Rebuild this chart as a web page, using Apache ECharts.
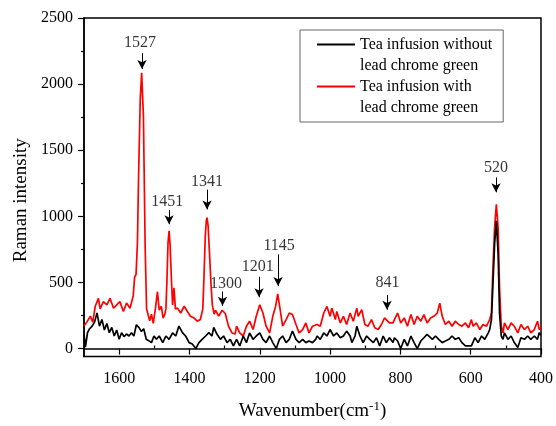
<!DOCTYPE html>
<html>
<head>
<meta charset="utf-8">
<script src="https://cdn.jsdelivr.net/npm/echarts@6/dist/echarts.min.js"></script>
<style>
html, body { margin: 0; padding: 0; background: #fff; }
#chart { width: 556px; height: 426px; }
</style>
</head>
<body>
<div id="chart"></div>
<script>
// tea infusion without lead chrome green
const blackShift = [1700, 1696, 1690, 1684, 1677, 1670, 1663, 1656, 1649, 1642, 1635, 1628, 1621, 1614, 1607, 1600, 1593, 1586, 1579, 1572, 1565, 1558, 1551, 1544, 1537, 1530, 1523, 1516, 1508, 1501, 1494, 1486, 1476, 1467, 1458, 1448, 1439, 1430, 1420, 1411, 1401, 1392, 1382, 1373, 1364, 1354, 1345, 1336, 1331, 1322, 1312, 1303, 1293, 1284, 1275, 1266, 1257, 1247, 1238, 1229, 1219, 1210, 1200, 1191, 1182, 1172, 1163, 1153, 1144, 1135, 1125, 1116, 1107, 1097, 1088, 1078, 1069, 1060, 1050, 1041, 1037, 1028, 1018, 1009, 1000, 990, 981, 971, 962, 953, 943, 938, 929, 924, 915, 906, 896, 887, 877, 868, 859, 849, 840, 831, 821, 817, 808, 799, 789, 780, 770, 761, 752, 742, 733, 724, 719, 709, 700, 691, 681, 672, 662, 653, 644, 634, 625, 615, 606, 598, 588, 579, 569, 560, 550, 546, 541, 537, 532, 527, 522, 518, 513, 508, 504, 494, 485, 476, 466, 457, 447, 438, 429, 419, 410, 405, 400];
const blackIntensity = [110, 10, 120, 150, 170, 200, 270, 170, 220, 140, 190, 120, 160, 95, 140, 70, 120, 90, 110, 95, 120, 95, 180, 160, 130, 150, 70, 60, 45, 95, 70, 95, 45, 95, 70, 118, 95, 170, 120, 95, 45, 35, 0, 45, 70, 95, 120, 95, 160, 110, 70, 95, 45, 70, 20, 70, 20, 95, 45, 118, 70, 95, 118, 70, 45, 95, 45, 0, 70, 95, 45, 70, 132, 70, 45, 70, 45, 57, 45, 70, 95, 70, 118, 95, 144, 95, 118, 82, 95, 132, 95, 45, 95, 169, 95, 45, 95, 70, 45, 82, 20, 95, 45, 82, 45, 82, 57, 0, 70, 20, 95, 45, 0, 57, 82, 107, 95, 70, 95, 70, 45, 57, 70, 95, 70, 82, 45, 20, 20, 20, 82, 45, 95, 70, 119, 144, 219, 468, 791, 966, 717, 269, 95, 70, 119, 70, 95, 45, 8, 82, 70, 95, 70, 95, 70, 119, 100];

// tea infusion with lead chrome green
const redShift = [1700, 1692, 1682, 1675, 1668, 1659, 1654, 1645, 1635, 1626, 1616, 1607, 1598, 1588, 1579, 1569, 1560, 1556, 1552, 1548, 1545, 1540, 1536, 1531, 1526, 1522, 1518, 1513, 1508, 1503, 1497, 1491, 1486, 1480, 1475, 1470, 1467, 1464, 1461, 1458, 1455, 1451, 1448, 1444, 1440, 1434, 1425, 1415, 1406, 1397, 1387, 1378, 1369, 1362, 1359, 1355, 1352, 1350, 1347, 1343, 1339, 1335, 1330, 1326, 1317, 1307, 1298, 1289, 1279, 1270, 1266, 1257, 1247, 1238, 1229, 1219, 1210, 1200, 1191, 1182, 1172, 1163, 1155, 1149, 1142, 1135, 1125, 1116, 1107, 1097, 1088, 1078, 1069, 1060, 1050, 1046, 1037, 1028, 1018, 1009, 1000, 995, 985, 981, 971, 962, 953, 943, 934, 924, 920, 910, 901, 892, 882, 873, 863, 854, 845, 840, 831, 821, 817, 808, 799, 789, 780, 770, 761, 752, 742, 733, 724, 714, 705, 695, 688, 681, 672, 662, 653, 644, 634, 625, 615, 606, 598, 593, 584, 574, 565, 555, 546, 541, 537, 532, 527, 522, 518, 513, 508, 504, 494, 485, 476, 466, 457, 447, 438, 429, 419, 410, 405, 400];
const redIntensity = [170, 200, 245, 200, 320, 380, 300, 355, 330, 380, 305, 330, 355, 280, 345, 305, 400, 540, 560, 800, 1265, 1885, 2085, 1761, 766, 300, 260, 210, 260, 190, 300, 430, 290, 320, 230, 260, 300, 520, 800, 890, 780, 500, 330, 460, 300, 306, 269, 320, 280, 245, 232, 207, 220, 300, 520, 850, 970, 990, 930, 720, 500, 330, 260, 290, 245, 290, 265, 170, 118, 110, 169, 118, 95, 169, 207, 144, 244, 331, 269, 169, 118, 244, 319, 413, 294, 169, 219, 269, 257, 182, 118, 144, 194, 118, 169, 169, 182, 169, 269, 319, 244, 306, 219, 281, 194, 244, 182, 269, 207, 306, 244, 294, 182, 169, 219, 157, 144, 182, 232, 219, 194, 194, 219, 269, 194, 232, 169, 257, 182, 244, 207, 257, 194, 232, 244, 269, 344, 244, 182, 207, 169, 207, 182, 169, 194, 157, 219, 169, 194, 144, 182, 169, 219, 269, 592, 916, 1090, 916, 468, 169, 119, 194, 144, 194, 169, 119, 182, 144, 169, 119, 144, 207, 144, 160];

// peak annotations
const peakLabels = ['1527', '1451', '1341', '1300', '1201', '1145', '841', '520'];
const peakArrowX = [1535, 1458, 1350, 1306, 1202, 1148, 838, 528];
const peakLabelX = [1541, 1463, 1350, 1296, 1206, 1145, 837, 528];
const peakLabelY = [2309, 1110, 1264, 488, 617, 774, 498, 1364];
const arrowTopY = [2234, 1048, 1202, 431, 543, 712, 406, 1294];
const arrowTipY = [2115, 940, 1052, 324, 388, 473, 294, 1182];

// axis ticks
const xMajorTicks = [1600, 1400, 1200, 1000, 800, 600, 400];
const xMinorTicks = [1500, 1300, 1100, 900, 700, 500];
const yMajorTicks = [0, 500, 1000, 1500, 2000, 2500];
const yMinorTicks = [250, 750, 1250, 1750, 2250];

const serif = "'Liberation Serif', 'Times New Roman', serif";
// legend line drawn near the top of a 42px-high icon box, so it sits beside the first text line
const legendLine = 'path://M0,0L0.01,0L0.01,0.01Z M0,9.6L38,9.6L38,11.6L0,11.6Z M0,41.99L0.01,41.99L0.01,42Z';

var myChart = echarts.init(document.getElementById('chart'));
var option;

const pairs = (xs, ys) => xs.map((x, i) => [x, ys[i]]);

option = {
	animation: false,
	textStyle: { fontFamily: serif },
	grid: {
		left: 84,
		right: 11,
		top: 18,
		bottom: 66,
		show: true,
		borderColor: '#000',
		borderWidth: 1.5,
		backgroundColor: 'transparent',
	},
	legend: {
		orient: 'vertical',
		left: 300,
		top: 30,
		padding: [4, 11, 4, 17],
		itemGap: 0,
		itemWidth: 38,
		itemHeight: 42,
		icon: legendLine,
		itemStyle: { borderWidth: 0 },
		borderColor: '#666',
		borderWidth: 1,
		borderRadius: 0,
		data: ['Tea infusion without\nlead chrome green', 'Tea infusion with\nlead chrome green'],
		textStyle: {
			fontFamily: serif,
			fontSize: 16,
			color: '#000',
			lineHeight: 21,
		},
	},
	xAxis: [
		{
			type: 'value',
			min: 400,
			max: 1700,
			inverse: true,
			name: 'Wavenumber(cm{sup|-1})',
			nameLocation: 'middle',
			nameGap: 44,
			nameTextStyle: {
				fontFamily: serif,
				fontSize: 19,
				color: '#000',
				rich: {
					sup: { fontFamily: serif, fontSize: 13, verticalAlign: 'top', padding: [0, 0, 9, 0] },
				},
			},
			axisLine: { lineStyle: { color: '#000', width: 1.5 } },
			axisTick: { customValues: xMajorTicks, length: 6, lineStyle: { color: '#000', width: 1.2 } },
			axisLabel: {
				customValues: xMajorTicks,
				margin: 14,
				fontFamily: serif,
				fontSize: 16,
				color: '#000',
				formatter: (v) => String(v),
			},
			splitLine: { show: false },
		},
		{
			type: 'value',
			min: 400,
			max: 1700,
			inverse: true,
			axisLine: { show: false },
			axisTick: { customValues: xMinorTicks, length: 3, lineStyle: { color: '#000', width: 1.2 } },
			axisLabel: { show: false },
			splitLine: { show: false },
		},
	],
	yAxis: [
		{
			type: 'value',
			min: -60,
			max: 2500,
			name: 'Raman intensity',
			nameLocation: 'middle',
			nameGap: 51,
			nameTextStyle: { fontFamily: serif, fontSize: 19, color: '#000', padding: [0, 26, 0, 0] },
			axisLine: { show: true, lineStyle: { color: '#000', width: 1.5 } },
			axisTick: { show: true, customValues: yMajorTicks, length: 6, lineStyle: { color: '#000', width: 1.2 } },
			axisLabel: {
				customValues: yMajorTicks,
				margin: 11,
				fontFamily: serif,
				fontSize: 16,
				color: '#000',
				formatter: (v) => String(v),
			},
			splitLine: { show: false },
		},
		{
			type: 'value',
			min: -60,
			max: 2500,
			position: 'left',
			axisLine: { show: false },
			axisTick: { show: true, customValues: yMinorTicks, length: 3, lineStyle: { color: '#000', width: 1.2 } },
			axisLabel: { show: false },
			splitLine: { show: false },
		},
	],
	series: [
		{
			name: 'Tea infusion without\nlead chrome green',
			type: 'line',
			symbol: 'none',
			z: 3,
			data: pairs(blackShift, blackIntensity),
			itemStyle: { color: '#000' },
			lineStyle: { color: '#000', width: 1.7 },
		},
		{
			name: 'Tea infusion with\nlead chrome green',
			type: 'line',
			symbol: 'none',
			z: 2,
			data: pairs(redShift, redIntensity),
			itemStyle: { color: '#ff0000' },
			lineStyle: { color: '#ff0000', width: 1.7 },
		},
		{
			name: 'peaks',
			type: 'scatter',
			symbolSize: 1,
			z: 4,
			itemStyle: { color: 'rgba(0,0,0,0)' },
			data: peakLabels.map((t, i) => ({ name: t, value: [peakLabelX[i], peakLabelY[i]] })),
			label: {
				show: true,
				position: 'inside',
				formatter: '{b}',
				fontFamily: serif,
				fontSize: 16,
				color: '#000',
			},
			markLine: {
				silent: true,
				symbol: ['none', 'arrow'],
				symbolSize: [7, 9],
				label: { show: false },
				lineStyle: { color: '#000', width: 1, type: 'solid' },
				data: peakArrowX.map((x, i) => [
					{ coord: [x, arrowTopY[i]] },
					{ coord: [x, arrowTipY[i]] },
				]),
			},
		},
	],
};

option && myChart.setOption(option);
</script>
</body>
</html>
